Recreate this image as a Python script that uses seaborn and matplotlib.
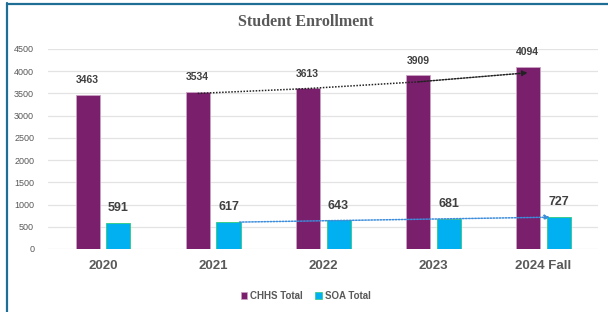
import matplotlib
matplotlib.use("Agg")
import matplotlib.pyplot as plt
from matplotlib.patches import Rectangle
import seaborn as sns
import pandas as pd

years = ["2020", "2021", "2022", "2023", "2024 Fall"]
chhs_total = [3463, 3534, 3613, 3909, 4094]
soa_total = [591, 617, 643, 681, 727]
series_names = ["CHHS Total", "SOA Total"]
y_ticks = [0, 500, 1000, 1500, 2000, 2500, 3000, 3500, 4000, 4500]

df = pd.DataFrame({
    "Year": years * 2,
    "Count": chhs_total + soa_total,
    "Series": [series_names[0]] * len(years) + [series_names[1]] * len(years),
})

sns.set_theme(style="white")
plt.rcParams["font.family"] = ["Liberation Sans", "DejaVu Sans"]

purple = "#791F6C"
cyan = "#00B0F0"
grey_txt = "#595959"

fig = plt.figure(figsize=(6.08, 3.12), dpi=100)
ax = fig.add_axes([0.079, 0.202, 0.905, 0.641])

sns.barplot(data=df, x="Year", y="Count", hue="Series", order=years,
            hue_order=series_names, palette=[purple, cyan], width=0.56, gap=0.22,
            ax=ax, legend=False, saturation=1)

# edges
for patch in ax.patches:
    fc = patch.get_facecolor()
    if abs(fc[2] - 0.94) < 0.05:
        patch.set_edgecolor("#2FCB7A")
    else:
        patch.set_edgecolor("#C9A3C4")
    patch.set_linewidth(0.6)

ax.set_ylim(0, 4500)
ax.set_xlim(-0.5, 4.5)
ax.set_yticks(y_ticks)
ax.set_yticklabels([str(t) for t in y_ticks], fontsize=6.5, color=grey_txt)
ax.tick_params(axis="y", length=0, pad=10)
ax.tick_params(axis="x", length=0, pad=8)
for lbl in ax.get_xticklabels():
    lbl.set_fontsize(9.5)
    lbl.set_fontweight("bold")
    lbl.set_color(grey_txt)
ax.grid(axis="y", color="#E3E3E3", linewidth=0.9)
ax.set_axisbelow(True)
for s in ax.spines.values():
    s.set_visible(False)
ax.set_xlabel("")
ax.set_ylabel("")

# data labels
cont_chhs, cont_soa = ax.containers[0], ax.containers[1]
for bar, v in zip(cont_chhs, chhs_total):
    ax.annotate(str(v), (bar.get_x() + bar.get_width() / 2, v), xytext=(0, 7),
                textcoords="offset points", ha="center", va="bottom",
                fontsize=7.5, fontweight="bold", color="#404040")
for bar, v in zip(cont_soa, soa_total):
    ax.annotate(str(v), (bar.get_x() + bar.get_width() / 2, v), xytext=(0, 6),
                textcoords="offset points", ha="center", va="bottom",
                fontsize=9, fontweight="bold", color="#404040")

# trend arrows
xs = [b.get_x() + b.get_width() / 2 for b in cont_chhs]
xs2 = [b.get_x() + b.get_width() / 2 for b in cont_soa]
ax.plot([xs[1], xs[2], xs[3]], [3500, 3610, 3760], linestyle=(0, (1, 1)),
        color="#222222", linewidth=1.1)
ax.annotate("", xy=(xs[4], 3965), xytext=(xs[3], 3760),
            arrowprops=dict(arrowstyle="-|>", linestyle=(0, (1, 1)), color="#222222",
                            linewidth=1.1, mutation_scale=8, shrinkA=0, shrinkB=0))
ax.annotate("", xy=(xs2[4] - 0.08, 715), xytext=(xs2[1] + 0.1, 605),
            arrowprops=dict(arrowstyle="-|>", linestyle=(0, (1, 1)), color="#3C8DDB",
                            linewidth=1.1, mutation_scale=7, shrinkA=0, shrinkB=0))

# title
fig.text(0.503, 0.928, "Student Enrollment", ha="center", va="center",
         fontsize=11.5, fontweight="bold", color=grey_txt, family="Liberation Serif")

# legend
handles = [Rectangle((0, 0), 1, 1, facecolor=purple, edgecolor="#C9A3C4", linewidth=0.5),
           Rectangle((0, 0), 1, 1, facecolor=cyan, edgecolor="#2FCB7A", linewidth=0.5)]
leg = ax.legend(handles, series_names, loc="center", bbox_to_anchor=(0.468, -0.235),
                ncol=2, frameon=False, fontsize=7, handlelength=0.7, handleheight=0.7,
                handletextpad=0.3, columnspacing=1.2)
for t in leg.get_texts():
    t.set_color(grey_txt)
    t.set_fontweight("bold")

# frame lines (left and top)
fig.add_artist(plt.Line2D([6.5 / 608, 6.5 / 608], [0, 1 - 3 / 312], transform=fig.transFigure,
                          color="#1F6E96", linewidth=1.6))
fig.add_artist(plt.Line2D([6.5 / 608, 1], [1 - 3.5 / 312, 1 - 3.5 / 312], transform=fig.transFigure,
                          color="#1F6E96", linewidth=1.6))

fig.savefig("out.png", dpi=100)
